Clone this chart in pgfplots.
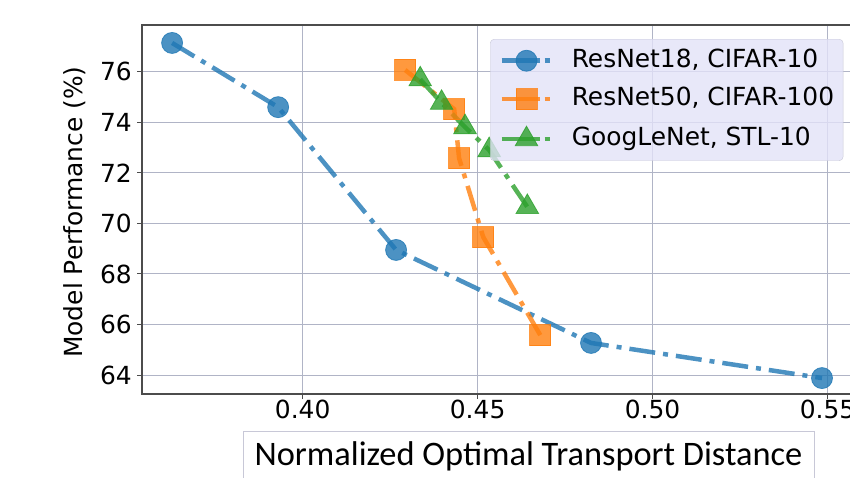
\documentclass[border=0pt]{standalone}
\usepackage{fontspec}
\setmainfont{DejaVu Sans}
\newfontfamily\carlito{Carlito}
\usepackage{pgfplots}
\pgfplotsset{compat=1.18}
\definecolor{c1}{HTML}{1F77B4}
\definecolor{c2}{HTML}{FF7F0E}
\definecolor{c3}{HTML}{2CA02C}
\definecolor{gridc}{RGB}{176,180,198}
\definecolor{legfill}{RGB}{226,226,248}
\definecolor{legdraw}{RGB}{200,200,215}
\begin{document}
\begin{tikzpicture}
\begin{axis}[
  at={(142bp,84bp)}, anchor=south west,
  scale only axis, width=720.6bp, height=369bp,
  xmin=0.3541, xmax=0.56, ymin=63.25, ymax=77.85,
  xtick={0.40,0.45,0.50,0.55},
  ytick={64,66,68,70,72,74,76},
  xticklabel style={/pgf/number format/fixed,/pgf/number format/fixed zerofill,/pgf/number format/precision=2, inner sep=0pt, yshift=-1bp},
  yticklabel style={inner sep=0pt, xshift=-5bp},
  /pgf/number format/assume math mode=true,
  tick label style={font=\fontsize{25}{30}\selectfont},
  grid=major, major grid style={gridc, line width=1bp},
  axis line style={black!70, line width=1.3bp},
  tick style={black!70, line width=1bp},
  tick align=outside, major tick length=5bp,
  xtick pos=bottom, ytick pos=left,
  xlabel={Normalized Optimal Transport Distance},
  xlabel style={at={(axis description cs:0.5364,-0.1003)}, anchor=north, draw=legdraw, fill=white,
    font=\carlito\fontsize{34.5}{40}\selectfont, minimum width=571bp, inner xsep=0bp, inner ysep=9bp,
    text height=25bp, text depth=30bp},
  ylabel={Model Performance (\%)},
  ylabel style={at={(axis description cs:-0.093,0.493)}, anchor=center, font=\fontsize{25}{30}\selectfont},
  legend style={at={(axis description cs:0.483,0.962)}, anchor=north west,
    fill=legfill, fill opacity=0.8, draw opacity=1, text opacity=1, draw=legdraw,
    rounded corners=4bp, font=\fontsize{25}{30}\selectfont,
    inner xsep=9bp, inner ysep=10bp, row sep=15.5bp,
    nodes={inner sep=0bp, text height=18bp, text depth=5bp},
    /tikz/every odd column/.append style={column sep=20bp}},
  legend cell align=left,
  legend image code/.code={
    \draw[#1, solid] (0bp,0bp) -- (38bp,0bp);
    \draw[#1, solid] (43bp,0bp) -- (48bp,0bp);
    \draw[#1] plot coordinates {(25bp,0bp)};
  },
  every axis plot/.append style={line width=4.5bp, opacity=0.8, dash pattern=on 26bp off 8bp on 5bp off 8bp},
]
\addplot[color=c1, mark=*, mark size=10.5bp, mark options={solid, line width=0.8bp}] coordinates {
  (0.3627,77.14) (0.3930,74.60) (0.4267,68.95) (0.4824,65.27) (0.5484,63.88)};
\addlegendentry{ResNet18, CIFAR-10}
\addplot[color=c2, mark=square*, mark size=10.5bp, mark options={solid, line width=0.8bp}] coordinates {
  (0.4293,76.07) (0.4433,74.52) (0.4447,72.58) (0.4516,69.46) (0.4679,65.58)};
\addlegendentry{ResNet50, CIFAR-100}
\addplot[color=c3, mark=triangle*, mark size=13bp, mark options={solid, line width=0.8bp}] coordinates {
  (0.4336,75.70) (0.4397,74.77) (0.4464,73.81) (0.4533,72.90) (0.4642,70.65)};
\addlegendentry{GoogLeNet, STL-10}
\end{axis}
\pgfresetboundingbox
\path[use as bounding box] (0bp,0bp) rectangle (850bp,478bp);
\end{tikzpicture}
\end{document}
